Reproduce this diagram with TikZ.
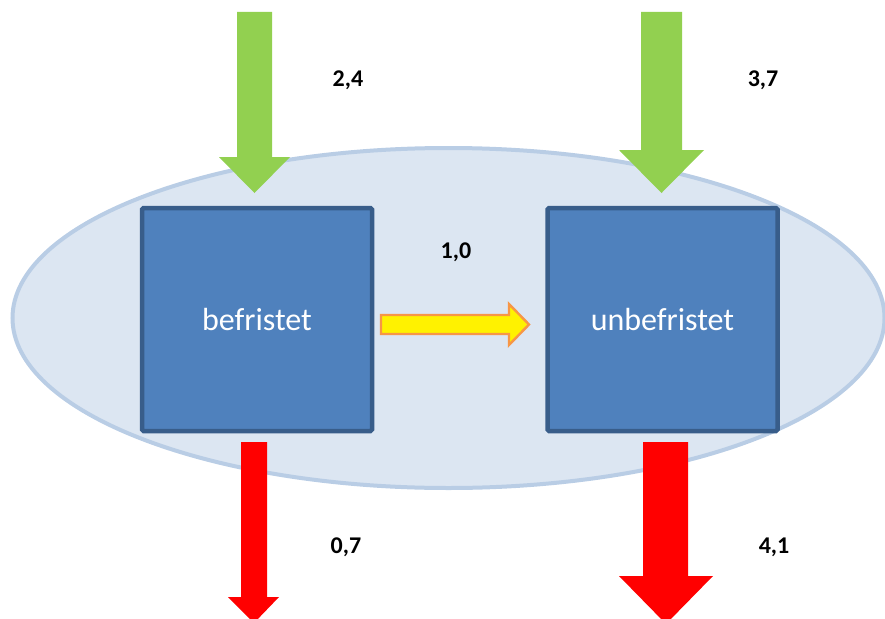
\documentclass[tikz,border=0pt]{standalone}
\usepackage{fontspec}
\setmainfont{Carlito}
\usetikzlibrary{shapes.geometric}
\definecolor{ellfill}{HTML}{DCE6F2}
\definecolor{elldraw}{HTML}{B9CDE5}
\definecolor{boxfill}{HTML}{4F81BD}
\definecolor{boxdraw}{HTML}{385D8A}
\definecolor{ingreen}{HTML}{92D050}
\definecolor{outred}{HTML}{FF0000}
\definecolor{moveorange}{HTML}{F79646}
\tikzset{
  pool/.style={ellipse, draw=elldraw, fill=ellfill, line width=4pt, inner sep=0pt, minimum width=872pt, minimum height=340pt},
  statebox/.style={rectangle, draw=boxdraw, fill=boxfill, line width=4.5pt, rounded corners=1.5pt, minimum width=230pt, minimum height=223pt, text=white, font=\fontsize{32}{36}\selectfont},
  val/.style={font=\bfseries\fontsize{24}{28}\selectfont, text=black},
  inflow/.style={fill=ingreen},
  outflow/.style={fill=outred},
  move/.style={fill=yellow, draw=moveorange, line width=2.4pt, line join=miter}
}
\begin{document}
\begin{tikzpicture}[x=1pt,y=-1pt]
\useasboundingbox (0,0) rectangle (885,618);
\clip (0,0) rectangle (885,618);
\node[pool] (pool) at (448.5,318) {};
\node[statebox] (bef) at (257,319.5) {befristet};
\node[statebox] (unb) at (662.5,319.5) {unbefristet};
% inflows
\fill[inflow] (237,12) -- (272,12) -- (272,157) -- (290,157) -- (254.5,193) -- (219,157) -- (237,157) -- cycle;
\fill[inflow] (641,12) -- (682,12) -- (682,150) -- (704,150) -- (661.5,193) -- (619,150) -- (641,150) -- cycle;
% transfer
\draw[move] (381,315) -- (509,315) -- (509,304) -- (529,324.5) -- (509,345) -- (509,334) -- (381,334) -- cycle;
% outflows
\fill[outflow] (241,442) -- (267,442) -- (267,597) -- (279,597) -- (254,623) -- (228,597) -- (241,597) -- cycle;
\fill[outflow] (643,442) -- (688,442) -- (688,576) -- (713,576) -- (666,624) -- (619,576) -- (643,576) -- cycle;
% values
\node[val] (v1) at (348,80) {2,4};
\node[val] (v2) at (763,80) {3,7};
\node[val] (v3) at (456,252) {1,0};
\node[val] (v4) at (346,547) {0,7};
\node[val] (v5) at (774,547) {4,1};
\end{tikzpicture}
\end{document}
